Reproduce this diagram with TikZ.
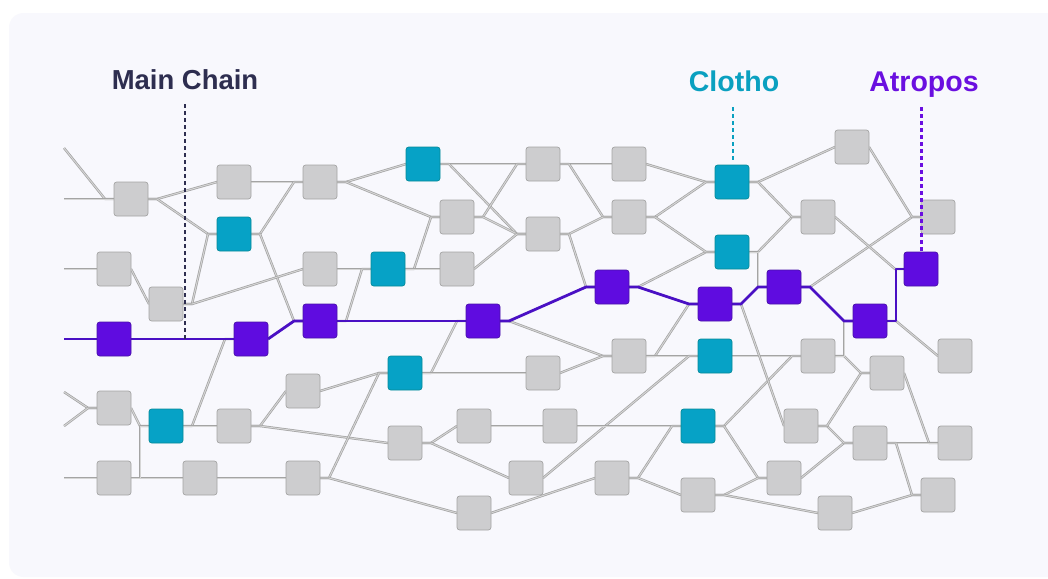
\documentclass[tikz,border=0pt]{standalone}
\usepackage{fontspec}
\setmainfont{Liberation Sans}
\pgfdeclarelayer{panelL}
\pgfdeclarelayer{edgesL}
\pgfsetlayers{panelL,edgesL,main}
\definecolor{panelc}{HTML}{F8F8FD}
\definecolor{gfill}{HTML}{CDCDCF}
\definecolor{gedge}{HTML}{A3A3A3}
\definecolor{tfill}{HTML}{06A2C6}
\definecolor{tedge}{HTML}{088A98}
\definecolor{pfill}{HTML}{5F0CE0}
\definecolor{pedge}{HTML}{4A14A8}
\definecolor{linkc}{HTML}{A4A4A4}
\definecolor{linkin}{HTML}{D6D6D6}
\definecolor{chainc}{HTML}{4A10C4}
\definecolor{navyc}{HTML}{2E2E50}
\definecolor{clothoc}{HTML}{0AA0C0}
\definecolor{atroposc}{HTML}{6A0FE0}
\tikzset{
  vtx/.style={rectangle,rounded corners=2pt,minimum size=25.5pt,inner sep=0pt,outer sep=0pt,line width=.5pt},
  gnode/.style={vtx,fill=gfill,draw=gedge},
  tnode/.style={vtx,fill=tfill,draw=tedge},
  pnode/.style={vtx,fill=pfill,draw=pedge},
  link/.style={draw=linkc,line width=.55pt,double=linkin,double distance=.7pt,line join=round},
  chain/.style={draw=chainc,line width=2.1pt,line join=round},
  guide/.style={line width=1.8pt,dash pattern=on 3pt off 2.25pt},
  lbl/.style={inner sep=0pt,anchor=base,font=\bfseries\fontsize{20.6pt}{24pt}\selectfont},
  lblb/.style={lbl,font=\bfseries\fontsize{21.4pt}{24pt}\selectfont}
}
\newcommand{\lkSS}[3][link]{\draw[#1] (#2.east) -- ++(9,0) -- ([xshift=-6.75pt]#3.west) -- (#3.west);}
\newcommand{\lkSN}[3][link]{\draw[#1] (#2.east) -- ++(9,0) -- (#3.west);}
\newcommand{\lkNS}[3][link]{\draw[#1] (#2.east) -- ([xshift=-6.75pt]#3.west) -- (#3.west);}
\newcommand{\lkNN}[3][link]{\draw[#1] (#2.east) -- (#3.west);}
\begin{document}
\begin{tikzpicture}[x=.75pt,y=-.75pt]
\useasboundingbox (0,0) rectangle (1048,578);
\begin{pgfonlayer}{panelL}
\fill[white] (0,0) rectangle (1048,578);
\begin{scope}
\clip (0,0) rectangle (1048,578);
\fill[panelc,rounded corners=11pt] (9,13) rectangle (1090,577);
\end{scope}
\end{pgfonlayer}
% gray
\node[gnode] (n131y199) at (131,199) {};
\node[gnode] (n234y182) at (234,182) {};
\node[gnode] (n320y182) at (320,182) {};
\node[gnode] (n114y269) at (114,269) {};
\node[gnode] (n166y304) at (166,304) {};
\node[gnode] (n320y269) at (320,269) {};
\node[gnode] (n457y217) at (457,217) {};
\node[gnode] (n457y269) at (457,269) {};
\node[gnode] (n543y164) at (543,164) {};
\node[gnode] (n543y234) at (543,234) {};
\node[gnode] (n629y164) at (629,164) {};
\node[gnode] (n629y217) at (629,217) {};
\node[gnode] (n852y147) at (852,147) {};
\node[gnode] (n818y217) at (818,217) {};
\node[gnode] (n938y217) at (938,217) {};
\node[gnode] (n818y356) at (818,356) {};
\node[gnode] (n955y356) at (955,356) {};
\node[gnode] (n887y373) at (887,373) {};
\node[gnode] (n629y356) at (629,356) {};
\node[gnode] (n543y373) at (543,373) {};
\node[gnode] (n114y408) at (114,408) {};
\node[gnode] (n234y426) at (234,426) {};
\node[gnode] (n303y391) at (303,391) {};
\node[gnode] (n114y478) at (114,478) {};
\node[gnode] (n200y478) at (200,478) {};
\node[gnode] (n303y478) at (303,478) {};
\node[gnode] (n405y443) at (405,443) {};
\node[gnode] (n474y426) at (474,426) {};
\node[gnode] (n560y426) at (560,426) {};
\node[gnode] (n526y478) at (526,478) {};
\node[gnode] (n612y478) at (612,478) {};
\node[gnode] (n474y513) at (474,513) {};
\node[gnode] (n698y495) at (698,495) {};
\node[gnode] (n784y478) at (784,478) {};
\node[gnode] (n835y513) at (835,513) {};
\node[gnode] (n801y426) at (801,426) {};
\node[gnode] (n870y443) at (870,443) {};
\node[gnode] (n955y443) at (955,443) {};
\node[gnode] (n938y495) at (938,495) {};
% teal
\node[tnode] (n234y234) at (234,234) {};
\node[tnode] (n388y269) at (388,269) {};
\node[tnode] (n423y164) at (423,164) {};
\node[tnode] (n732y182) at (732,182) {};
\node[tnode] (n732y252) at (732,252) {};
\node[tnode] (n715y356) at (715,356) {};
\node[tnode] (n405y373) at (405,373) {};
\node[tnode] (n166y426) at (166,426) {};
\node[tnode] (n698y426) at (698,426) {};
% purple
\node[pnode] (n114y339) at (114,339) {};
\node[pnode] (n251y339) at (251,339) {};
\node[pnode] (n320y321) at (320,321) {};
\node[pnode] (n483y321) at (483,321) {};
\node[pnode] (n612y287) at (612,287) {};
\node[pnode] (n715y304) at (715,304) {};
\node[pnode] (n784y287) at (784,287) {};
\node[pnode] (n870y321) at (870,321) {};
\node[pnode] (n921y269) at (921,269) {};
% free ends
\coordinate (inA) at (64,148);
\coordinate (inB) at (64,199);
\coordinate (inC) at (64,269);
\coordinate (inD) at (64,339);
\coordinate (inE) at (64,392);
\coordinate (inF) at (64,426);
\coordinate (inG) at (64,478);
\coordinate (onChain) at (185,339);
% labels
\node[lbl,text=navyc] (lblMain) at (185,89) {Main Chain};
\node[lblb,text=clothoc] (lblClotho) at (734,91.7) {Clotho};
\node[lblb,text=atroposc] (lblAtropos) at (924,91.7) {Atropos};
\coordinate (topMain) at (185,104);
\coordinate (topClotho) at (733,107);
\coordinate (topAtropos) at (921.5,107);
\begin{pgfonlayer}{edgesL}
% free-end links
\draw[link] (inA) -- ([xshift=-6.75pt]n131y199.west) -- (n131y199.west);
\draw[link] (inB) -- (n131y199.west);
\draw[link] (inC) -- (n114y269.west);
\draw[link] (inE) -- ([xshift=-6.75pt]n114y408.west) -- (n114y408.west);
\draw[link] (inF) -- ([xshift=-6.75pt]n114y408.west) -- (n114y408.west);
\draw[link] (inG) -- (n114y478.west);
% upper left
\lkSN{n131y199}{n234y182}
\lkSS{n131y199}{n234y234}
\lkNN{n234y182}{n320y182}
\lkSS{n234y234}{n320y182}
\lkSS{n234y234}{n320y321}
\lkNN{n114y269}{n166y304}
\lkSS{n166y304}{n234y234}
\lkSN{n166y304}{n320y269}
\lkNN{n320y269}{n388y269}
\lkSS{n320y321}{n388y269}
\lkSS{n166y426}{n251y339}
% upper middle
\lkSN{n320y182}{n423y164}
\lkSS{n320y182}{n457y217}
\lkSS{n388y269}{n457y217}
\lkNN{n388y269}{n457y269}
\lkNN{n423y164}{n543y164}
\lkSS{n423y164}{n543y234}
\lkSS{n457y217}{n543y164}
\lkSS{n457y217}{n543y234}
\lkNS{n457y269}{n543y234}
\lkNN{n543y164}{n629y164}
\lkSS{n543y164}{n629y217}
\lkSS{n543y234}{n629y217}
\lkSS{n543y234}{n612y287}
\lkSS{n483y321}{n629y356}
\lkSS{n612y287}{n732y252}
\lkNS{n629y164}{n732y182}
\lkSS{n629y217}{n732y182}
\lkSS{n629y217}{n732y252}
\lkSS{n629y356}{n715y304}
\lkNN{n629y356}{n715y356}
\lkSS{n405y373}{n483y321}
\lkNN{n405y373}{n543y373}
\lkNS{n543y373}{n629y356}
\lkNS{n526y478}{n715y356}
% lower left
\lkNS{n303y391}{n405y373}
\lkSN{n234y426}{n303y391}
\lkSN{n234y426}{n405y443}
\lkSS{n303y478}{n405y373}
\lkSN{n303y478}{n474y513}
\lkNS{n114y408}{n166y426}
\lkNN{n114y478}{n200y478}
\lkSS{n114y478}{n166y426}
\lkNN{n166y426}{n234y426}
\lkNN{n200y478}{n303y478}
\lkSN{n405y443}{n474y426}
\lkSN{n405y443}{n526y478}
\lkNN{n474y426}{n560y426}
\lkNN{n560y426}{n698y426}
\lkNN{n474y513}{n612y478}
\lkSS{n612y478}{n698y426}
\lkSN{n612y478}{n698y495}
% lower right
\lkNN{n715y356}{n818y356}
\lkSS{n698y426}{n818y356}
\lkSS{n698y426}{n784y478}
\lkSS{n698y495}{n784y478}
\lkSN{n698y495}{n835y513}
\lkNS{n784y478}{n870y443}
\lkNS{n835y513}{n938y495}
\lkSS{n801y426}{n870y443}
\lkSS{n801y426}{n887y373}
\lkSS{n818y356}{n887y373}
\lkSS{n818y356}{n870y321}
\lkNS{n887y373}{n955y443}
\lkNN{n870y443}{n955y443}
\lkSS{n870y443}{n938y495}
\lkSN{n715y304}{n801y426}
% upper right
\lkSS{n732y252}{n818y217}
\lkSS{n732y252}{n784y287}
\lkSN{n732y182}{n852y147}
\lkSS{n732y182}{n818y217}
\lkSS{n784y287}{n938y217}
\lkNS{n852y147}{n938y217}
\lkNS{n818y217}{n921y269}
\lkSN{n870y321}{n955y356}
% main chain
\draw[chain] (inD) -- (n114y339.west);
\lkNN[chain]{n114y339}{n251y339}
\lkNS[chain]{n251y339}{n320y321}
\lkNN[chain]{n320y321}{n483y321}
\lkSS[chain]{n483y321}{n612y287}
\lkSS[chain]{n612y287}{n715y304}
\lkSS[chain]{n715y304}{n784y287}
\lkSS[chain]{n784y287}{n870y321}
\draw[chain] (n870y321.east) -- ++(9,0) |- (n921y269.west);
\end{pgfonlayer}
% guides
\draw[guide,navyc] (topMain) -- (onChain);
\draw[guide,clothoc,shorten >=2pt] (topClotho) -- (n732y182.north -| topClotho);
\draw[guide,atroposc,shorten >=1pt] (topAtropos) -- (n921y269.north -| topAtropos);
\end{tikzpicture}
\end{document}
